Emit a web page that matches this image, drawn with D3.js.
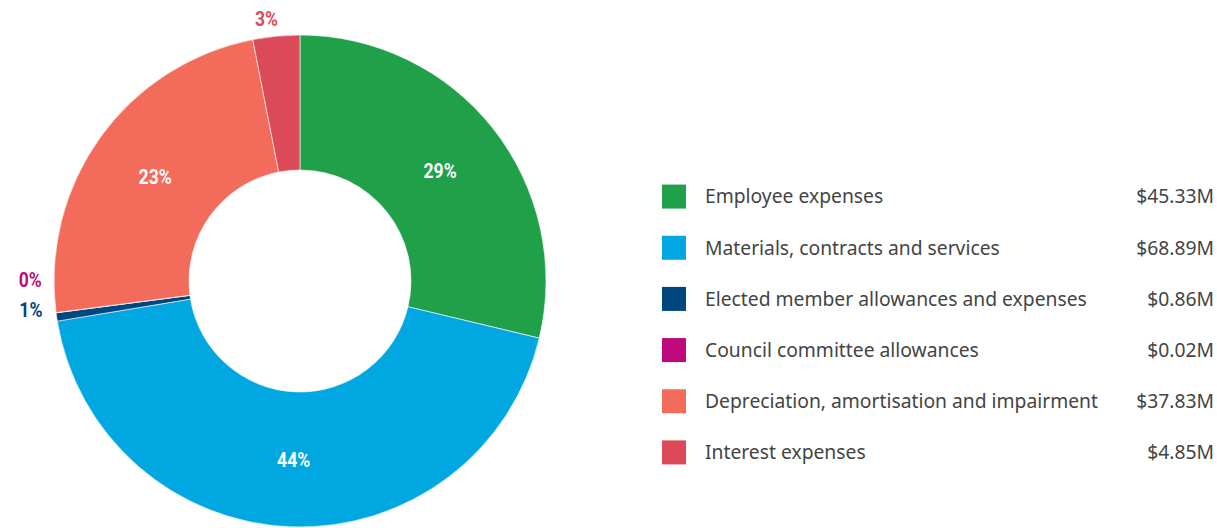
<!DOCTYPE html>
<html>
<head>
<meta charset="utf-8">
<script src="https://cdn.jsdelivr.net/npm/d3@7"></script>
<style>
	body { margin: 0; background: #fff; }
	svg { display: block; }
</style>
</head>
<body>
<svg id="chart"></svg>
<script>
const categories = [
	"Employee expenses",
	"Materials, contracts and services",
	"Elected member allowances and expenses",
	"Council committee allowances",
	"Depreciation, amortisation and impairment",
	"Interest expenses"
];
const values = [45.33, 68.89, 0.86, 0.02, 37.83, 4.85];
const valueLabels = ["$45.33M", "$68.89M", "$0.86M", "$0.02M", "$37.83M", "$4.85M"];
const percentLabels = ["29%", "44%", "1%", "0%", "23%", "3%"];
const colors = ["#21a04a", "#00a7e1", "#00467f", "#bf0a7d", "#f26b5b", "#dc4a59"];

const width = 1217;
const height = 528;
const cx = 300, cy = 281;
const outerR = 246, innerR = 111;

const svg = d3.select("#chart").attr("width", width).attr("height", height);

const data = categories.map((c, i) => ({ name: c, value: values[i], pct: percentLabels[i], color: colors[i], label: valueLabels[i] }));

// pie starts at 12 o'clock and goes clockwise, keep input order
const pie = d3.pie().sort(null).value(d => d.value);
const arcs = pie(data);
const arcGen = d3.arc().innerRadius(innerR).outerRadius(outerR);

const g = svg.append("g").attr("transform", `translate(${cx},${cy})`);

g.selectAll("path")
	.data(arcs)
	.join("path")
	.attr("d", arcGen)
	.attr("fill", d => d.data.color)
	.attr("stroke", "#fff")
	.attr("stroke-width", 0.6);

// labels: inside for big slices, outside for small ones
const outsideArc = d3.arc().innerRadius(outerR + 18).outerRadius(outerR + 18);
const labels = arcs.map(d => {
	const share = (d.endAngle - d.startAngle) / (2 * Math.PI);
	const inside = share > 0.05;
	const pos = inside ? arcGen.centroid(d) : outsideArc.centroid(d);
	return { d, inside, x: pos[0], y: pos[1] };
});

// push overlapping outside labels apart (stack upwards)
const outside = labels.filter(l => !l.inside);
for (let i = 1; i < outside.length; i++) {
	const prev = outside[i - 1], cur = outside[i];
	if (Math.abs(prev.x - cur.x) < 40 && Math.abs(prev.y - cur.y) < 30) {
		prev.y -= 10;
		cur.y = prev.y - 30;
	}
}

g.selectAll("text.pct")
	.data(labels)
	.join("text")
	.attr("class", "pct")
	.attr("transform", l => `translate(${l.inside ? l.x : l.x - 8},${l.y}) scale(0.86,1)`)
	.attr("dy", "0.36em")
	.attr("text-anchor", "middle")
	.style("font-family", "'Roboto', sans-serif")
	.style("font-weight", 700)
	.style("font-size", "20.5px")
	.style("fill", l => l.inside ? "#fff" : l.d.data.color)
	.text(l => l.d.data.pct);

// legend
const legendY = d3.scaleBand().domain(categories).range([171, 478]);
const legend = svg.append("g");
const rows = legend.selectAll("g")
	.data(data)
	.join("g")
	.attr("transform", d => `translate(0,${legendY(d.name) + legendY.bandwidth() / 2})`);

rows.append("rect")
	.attr("x", 662)
	.attr("y", -12)
	.attr("width", 24)
	.attr("height", 24)
	.attr("fill", d => d.color);

const legendFont = "'Noto Sans', sans-serif";
rows.append("text")
	.attr("x", 705)
	.attr("dy", "0.35em")
	.style("font-family", legendFont)
	.style("font-size", "19.3px")
	.style("fill", "#444")
	.text(d => d.name);

rows.append("text")
	.attr("x", 1214)
	.attr("dy", "0.35em")
	.attr("text-anchor", "end")
	.style("font-family", legendFont)
	.style("font-size", "19.3px")
	.style("fill", "#444")
	.text(d => d.label);
</script>
</body>
</html>
